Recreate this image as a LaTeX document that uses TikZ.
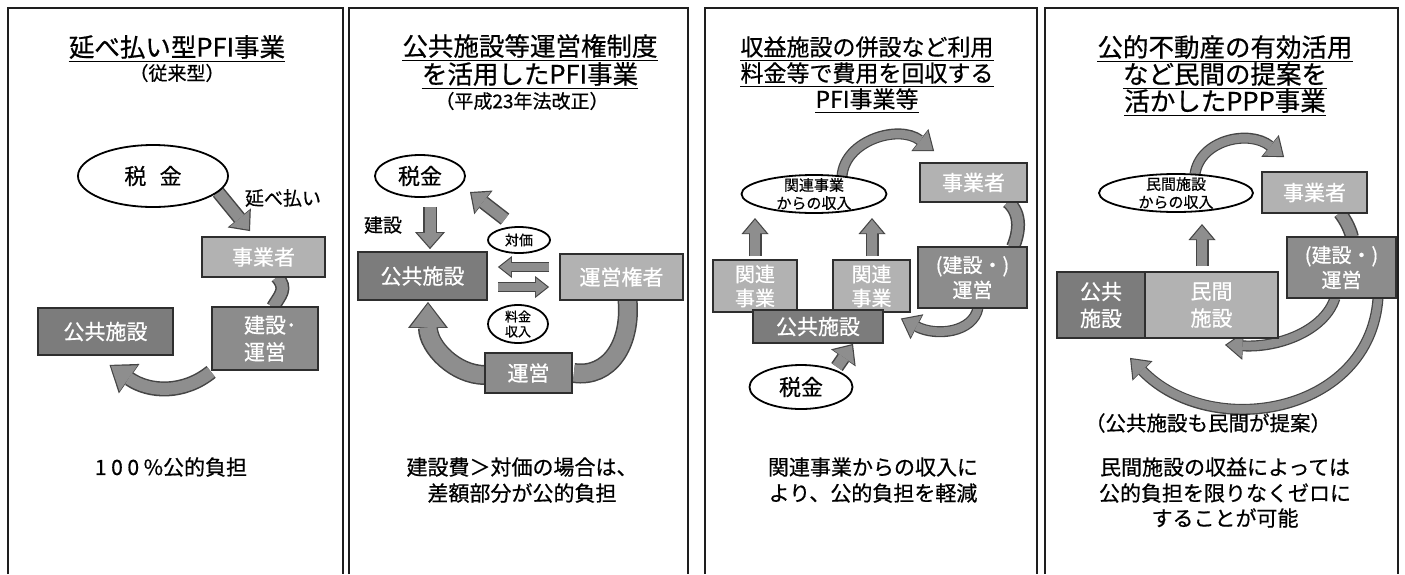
\documentclass[tikz,border=0pt]{standalone}
\usepackage{fontspec}
\setmainfont{Noto Sans CJK JP}[FakeBold=0.6]
\usetikzlibrary{shapes.geometric,arrows.meta,calc}
\pgfdeclarelayer{bg}
\pgfsetlayers{bg,main}
\definecolor{boxline}{HTML}{2E2E2E}
\definecolor{lightfill}{HTML}{B2B2B2}
\definecolor{midfill}{HTML}{8C8C8C}
\definecolor{darkfill}{HTML}{7C7C7C}
\definecolor{arrline}{HTML}{454545}
\definecolor{arrfill}{HTML}{8E8E8E}
\definecolor{framecol}{HTML}{1E1E1E}
\begin{document}
\begin{tikzpicture}[x=1pt,y=-1pt,
  panel/.style={draw=framecol,line width=2pt},
  uline/.style={draw=black,line width=1.4pt},
  title/.style={font=\fontsize{25.5}{30}\selectfont,inner sep=0pt},
  titlec/.style={font=\fontsize{23}{27}\selectfont,inner sep=0pt},
  sub/.style={font=\fontsize{19}{22}\selectfont,inner sep=0pt},
  note/.style={font=\fontsize{21}{26}\selectfont,inner sep=0pt},
  lbl/.style={font=\fontsize{19}{22}\selectfont,inner sep=0pt},
  box/.style={draw=boxline,line width=1.8pt,text=white,font=\fontsize{21}{27}\selectfont,align=center,inner sep=0pt},
  lightbox/.style={box,fill=lightfill},
  midbox/.style={box,fill=midfill},
  darkbox/.style={box,fill=darkfill},
  oval/.style={ellipse,draw=black,line width=1.8pt,fill=white,inner sep=0pt},
  big/.style={font=\fontsize{22}{26}\selectfont,align=center,inner sep=0pt},
  small/.style={font=\fontsize{15}{18}\selectfont,align=center,inner sep=0pt},
  barrow/.style n args={6}{draw=arrline,line width=#1,
     -{Triangle[length=#3,width=#5,line width=0pt]},
     postaction={draw=arrfill,line width=#2,-{Triangle[length=#4,width=#6,line width=0pt]},shorten >=1.8pt}},
  arrM/.style={barrow={14pt}{11pt}{17pt}{14.5pt}{30pt}{25.5pt}},
  arrS/.style={barrow={10pt}{7.5pt}{14pt}{11.5pt}{22pt}{18pt}},
  arrUp/.style={barrow={13pt}{10pt}{16pt}{13.5pt}{27pt}{22.5pt}},
  arrC/.style={barrow={15pt}{12pt}{24pt}{21.5pt}{36pt}{31.5pt}},
  arrCL/.style={barrow={20pt}{17pt}{26pt}{23.5pt}{40pt}{35.5pt}},
  arrT/.style={barrow={11pt}{8.5pt}{18pt}{15.5pt}{28pt}{24pt}},
  band/.style n args={2}{draw=arrline,line width=#1,postaction={draw=arrfill,line width=#2}},
  bandS/.style={band={14pt}{11pt}},
  bandL/.style={band={20pt}{17pt}}
]
\useasboundingbox (0,0) rectangle (1405,574);

% panel frames
\draw[panel] (8,574) -- (8,8) -- (343,8) -- (343,574);
\draw[panel] (349,574) -- (349,8) -- (688,8) -- (688,574);
\draw[panel] (705,574) -- (705,8) -- (1037,8) -- (1037,574);
\draw[panel] (1045,574) -- (1045,8) -- (1398,8) -- (1398,574);

% ---------- panel 1 ----------
\node[title] (p1t) at (177,47) {延べ払い型PFI事業};
\draw[uline] ([shift={(0,5)}]p1t.base west) -- ([shift={(0,5)}]p1t.base east);
\node[sub] (p1s) at (177,73) {（従来型）};
\node[oval,minimum width=150pt,minimum height=62pt,label={[big]center:税\hspace{0.6em}金}] (tax1) at (153,176) {};
\node[lbl] (lbl1) at (283,198) {延べ払い};
\node[lightbox,minimum width=123pt,minimum height=40pt] (biz1) at (263.5,257) {事業者};
\node[midbox,minimum width=106pt,minimum height=63pt] (op1) at (265,338.5) {建設\rlap{･}\\運営};
\node[darkbox,minimum width=135pt,minimum height=47pt] (pub1) at (105.5,331.5) {公共施設};
\node[note] (n1) at (171,467) {{\addfontfeature{LetterSpace=22}100\%}公的負担};

% ---------- panel 2 ----------
\node[title] (p2t) at (530,46) {公共施設等運営権制度};
\draw[uline] ([shift={(0,5)}]p2t.base west) -- ([shift={(0,5)}]p2t.base east);
\node[title] (p2u) at (530,74) {を活用したPFI事業};
\draw[uline] ([shift={(0,5)}]p2u.base west) -- ([shift={(0,5)}]p2u.base east);
\node[sub] (p2s) at (522,101) {（平成23年法改正）};
\node[oval,minimum width=90pt,minimum height=42pt,label={[big]center:税金}] (tax2) at (420,176) {};
\node[lbl] (lbl2) at (383,225) {建設};
\node[darkbox,minimum width=129pt,minimum height=48pt] (pub2) at (422.5,276) {公共施設};
\node[lightbox,minimum width=123pt,minimum height=46pt] (opr2) at (621.5,277) {運営権者};
\node[oval,minimum width=62pt,minimum height=26pt,label={[small,font=\fontsize{14}{16}\selectfont]center:対価}] (ev2) at (519,240) {};
\node[oval,minimum width=60pt,minimum height=38pt,label={[small,font=\fontsize{13}{15}\selectfont]center:料金\\収入}] (fee2) at (518,324) {};
\node[midbox,minimum width=87pt,minimum height=40pt] (op2) at (528.5,373) {運営};
\node[note] (n2a) at (522,467) {建設費＞対価の場合は、};
\node[note] (n2b) at (522,493) {差額部分が公的負担};

% ---------- panel 3 ----------
\node[titlec] (p3t) at (867,47) {収益施設の併設など利用};
\draw[uline] ([shift={(0,5)}]p3t.base west) -- ([shift={(0,5)}]p3t.base east);
\node[titlec] (p3u) at (867,73) {料金等で費用を回収する};
\draw[uline] ([shift={(0,5)}]p3u.base west) -- ([shift={(0,5)}]p3u.base east);
\node[titlec] (p3v) at (867,99) {PFI事業等};
\draw[uline] ([shift={(0,5)}]p3v.base west) -- ([shift={(0,5)}]p3v.base east);
\node[oval,minimum width=145pt,minimum height=38pt,label={[small]center:関連事業\\からの収入}] (inc3) at (814,194) {};
\node[lightbox,minimum width=107pt,minimum height=39pt] (biz3) at (973.5,182.5) {事業者};
\node[lightbox,minimum width=84pt,minimum height=52pt,font=\fontsize{20}{24}\selectfont] (rel3a) at (755,286) {関連\\事業};
\node[lightbox,minimum width=77pt,minimum height=52pt,font=\fontsize{20}{24}\selectfont] (rel3b) at (871.5,286) {関連\\事業};
\node[darkbox,minimum width=130pt,minimum height=33pt] (pub3) at (818,326.5) {公共施設};
\node[midbox,minimum width=109pt,minimum height=61pt,font=\fontsize{20}{25}\selectfont] (op3) at (972.5,277.5) {(建設・)\\運営};
\node[oval,minimum width=103pt,minimum height=44pt,label={[big]center:税金}] (tax3) at (801,387) {};
\node[note] (n3a) at (873,467) {関連事業からの収入に};
\node[note] (n3b) at (873,493) {より、公的負担を軽減};

% ---------- panel 4 ----------
\node[title] (p4t) at (1225,47) {公的不動産の有効活用};
\draw[uline] ([shift={(0,5)}]p4t.base west) -- ([shift={(0,5)}]p4t.base east);
\node[title] (p4u) at (1225,74) {など民間の提案を};
\draw[uline] ([shift={(0,5)}]p4u.base west) -- ([shift={(0,5)}]p4u.base east);
\node[title] (p4v) at (1225,101) {活かしたPPP事業};
\draw[uline] ([shift={(0,5)}]p4v.base west) -- ([shift={(0,5)}]p4v.base east);
\node[oval,minimum width=154pt,minimum height=38pt,label={[small]center:民間施設\\からの収入}] (inc4) at (1176,193) {};
\node[lightbox,minimum width=105pt,minimum height=41pt] (biz4) at (1314.5,192.5) {事業者};
\node[darkbox,minimum width=88pt,minimum height=66pt] (pub4) at (1101,305) {公共\\施設};
\node[lightbox,minimum width=133pt,minimum height=66pt] (prv4) at (1211.5,305) {民間\\施設};
\node[midbox,minimum width=109pt,minimum height=61pt,font=\fontsize{20}{25}\selectfont] (op4) at (1341.5,267.5) {(建設・)\\運営};
\node[note,font=\fontsize{20.5}{24}\selectfont] (n4p) at (1208,423) {（公共施設も民間が提案）};
\node[note] (n4a) at (1225,467) {民間施設の収益によっては};
\node[note] (n4b) at (1225,493) {公的負担を限りなくゼロに};
\node[note] (n4c) at (1225,518) {することが可能};

% ---------- connectors ----------
\begin{pgfonlayer}{bg}
\fill[white] (0,0) rectangle (1405,574);
% panel 1
\draw[arrM] (tax1.-14) -- ([shift={(-13.5,-5)}]biz1.north);
\draw[bandS] ([shift={(13.5,-1)}]biz1.south) .. controls +(11,12) and +(7,-12) .. ([shift={(8,1)}]op1.north);
\draw[arrC] ([shift={(0,1)}]op1.south west) .. controls +(-27,22) and +(40,28) .. ([shift={(4,9)}]pub1.south);
% panel 2
\draw[arrM] ([shift={(10,9)}]tax2.south) -- ([shift={(7.5,-2)}]pub2.north);
\draw[arrM] ([shift={(-14,-7)}]ev2.north) -- ([shift={(50,16)}]tax2.center);
\draw[arrS] ([shift={(-10,-10)}]opr2.west) -- ([shift={(10,-9)}]pub2.east);
\draw[arrS] ([shift={(10,11)}]pub2.east) -- ([shift={(-10,10)}]opr2.west);
\draw[bandL] ([shift={(6,-1)}]opr2.south) .. controls +(4,45) and +(35,5) .. ([shift={(1,0)}]op2.east);
\draw[arrCL] ([shift={(1,2)}]op2.west) .. controls +(-30,0) and +(0,45) .. ([shift={(5.5,1)}]pub2.south);
% panel 3
\draw[arrUp] ([shift={(0,-3)}]rel3a.north) -- ([shift={(-59,24)}]inc3.center);
\draw[arrUp] ([shift={(0.5,-3)}]rel3b.north) -- ([shift={(58,24)}]inc3.center);
\draw[arrT] ([shift={(28,-18)}]inc3.center) .. controls +(3,-36) and +(-35,-27) .. ([shift={(15,-11)}]biz3.north west);
\draw[bandS] ([shift={(34.5,-1)}]biz3.south) .. controls +(14,12) and +(6,-14) .. ([shift={(40.5,1)}]op3.north);
\draw[arrT] ([shift={(5.5,-1)}]op3.south) .. controls +(-5,25) and +(35,18) .. ([shift={(17,-8)}]pub3.east);
\draw[arrM] ([shift={(36,-20)}]tax3.center) -- ([shift={(35,0)}]pub3.south);
% panel 4
\draw[arrUp] ([shift={(-9.5,-5)}]prv4.north) -- ([shift={(26,31)}]inc4.center);
\draw[arrT] ([shift={(19,-19)}]inc4.center) .. controls +(5,-34) and +(-35,-28) .. ([shift={(23,-14)}]biz4.north west);
\draw[bandS] ([shift={(25.5,-1)}]biz4.south) .. controls +(6,8) and +(-2,-8) .. ([shift={(10.5,1)}]op4.north);
\draw[arrT] ([shift={(-6.5,-1)}]op4.south) .. controls +(-10,32) and +(55,3) .. ([shift={(13.5,6)}]prv4.south);
\draw[arrT] ([shift={(36.5,-1)}]op4.south) .. controls +(-8,117) and +(80,83) .. ([shift={(29,19)}]pub4.south);
\end{pgfonlayer}
\end{tikzpicture}
\end{document}
